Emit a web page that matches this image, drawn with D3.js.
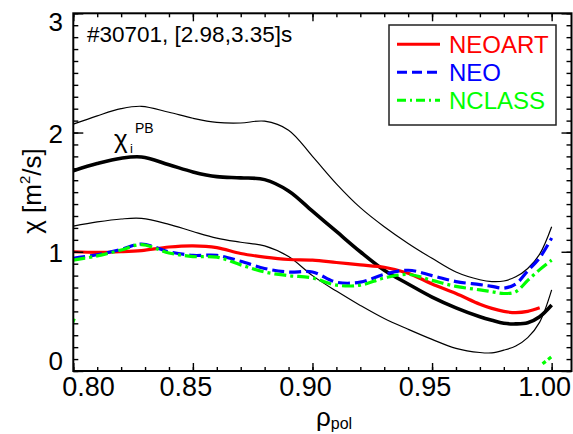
<!DOCTYPE html>
<html><head><meta charset="utf-8">
<script src="https://cdn.jsdelivr.net/npm/d3@7"></script>
<style>body{margin:0;background:#fff}svg{display:block}text{font-family:"Liberation Sans",Arial,sans-serif}</style>
</head><body><svg id="c" width="573" height="434"></svg>
<script>
const rho     = [0.800,0.810,0.820,0.8285,0.840,0.850,0.860,0.870,0.880,0.890,0.900,0.910,0.920,0.930,0.940,0.950,0.960,0.970,0.975,0.980,0.985,0.990,0.995,1.000];
const chiPB   = [1.68,1.74,1.785,1.795,1.73,1.67,1.63,1.62,1.605,1.51,1.34,1.17,1.00,0.845,0.73,0.62,0.53,0.455,0.425,0.40,0.395,0.405,0.455,0.553];
const chiPBUp = [2.07,2.14,2.20,2.22,2.17,2.12,2.085,2.08,2.095,2.02,1.80,1.57,1.37,1.21,1.07,0.945,0.83,0.765,0.75,0.755,0.79,0.86,0.98,1.21];
const chiPBLo = [1.215,1.25,1.275,1.28,1.23,1.17,1.115,1.08,1.05,0.96,0.80,0.67,0.55,0.44,0.35,0.265,0.19,0.155,0.152,0.175,0.21,0.28,0.41,0.68];
const neoart  = [1.00,0.995,1.00,1.01,1.04,1.05,1.035,0.985,0.955,0.935,0.93,0.91,0.89,0.87,0.82,0.73,0.65,0.56,0.525,0.50,0.49,0.50,0.53,null];
const neo     = [0.945,0.975,1.02,1.065,1.00,0.97,0.97,0.92,0.86,0.83,0.83,0.745,0.745,0.81,0.845,0.80,0.75,0.725,0.71,0.695,0.73,0.84,0.95,1.115];
const nclass  = [0.93,0.965,1.015,1.06,0.99,0.96,0.955,0.89,0.83,0.80,0.78,0.72,0.72,0.78,0.81,0.76,0.71,0.68,0.665,0.65,0.665,0.76,0.85,0.93];
const nclassEdgeRho = [0.7996,0.8004];
const nclassEdge    = [0.40,0.44];
const nclassTailRho = [0.9962,1.000];
const nclassTail    = [0.06,0.12];
const xTicks = [0.80,0.85,0.90,0.95,1.00];
const xTickLabels = ["0.80","0.85","0.90","0.95","1.00"];
const yTicks = [0,1,2,3];
const yTickLabels = ["0","1","2","3"];
const legendNames = ["NEOART","NEO","NCLASS"];
const legendColors = ["#ff0000","#0000ff","#00ff00"];
const legendDash = [null,"12,5","12,4,3,4"];
const title = "#30701, [2.98,3.35]s";

const svg = d3.select("#c");
const x = d3.scaleLinear().domain([0.8,1.0083]).range([73.3,571.5]);
const y = d3.scaleLinear().domain([0,3]).range([371,13.3]);
const X0=x.range()[0], X1=x.range()[1], Y0=y.range()[0], Y1=y.range()[1];

svg.append("defs").append("clipPath").attr("id","clip")
  .append("rect").attr("x",X0).attr("y",Y1).attr("width",X1-X0).attr("height",Y0-Y1);

const g = svg.append("g").attr("clip-path","url(#clip)");
const line = d3.line().defined(d=>d[1]!=null).x(d=>x(d[0])).y(d=>y(d[1])).curve(d3.curveCatmullRom.alpha(0.5));
function draw(rs, vs, color, w, dash){
  const p = g.append("path").datum(rs.map((r,i)=>[r,vs[i]]))
    .attr("d",line).attr("fill","none").attr("stroke",color).attr("stroke-width",w)
    .attr("stroke-linejoin","round");
  if(dash) p.attr("stroke-dasharray",dash);
}
draw(rho,chiPBUp,"#000",1.2);
draw(rho,chiPBLo,"#000",1.2);
draw(rho,chiPB,"#000",3.6);
draw(rho,neoart,legendColors[0],3.2,legendDash[0]);
draw(rho,neo,legendColors[1],3.2,legendDash[1]);
draw(rho,nclass,legendColors[2],3.2,legendDash[2]);
draw(nclassEdgeRho,nclassEdge,legendColors[2],3.2);
draw(nclassTailRho,nclassTail,legendColors[2],3.2,"4,3");

// axes ticks
const xMinor = d3.range(0,21).map(i=>+(0.8+i*0.01).toFixed(2));
const yMinor = d3.range(0,31).map(i=>+(i*0.1).toFixed(1));
function ax(gen, tr){ const a = svg.append("g").attr("transform",tr).call(gen);
  a.select(".domain").remove(); a.selectAll("line").attr("stroke","#000").attr("stroke-width",1.4); a.selectAll("text").remove(); }
ax(d3.axisBottom(x).tickValues(xMinor).tickSizeInner(-4).tickSizeOuter(0).tickFormat(""),`translate(0,${Y0})`);
ax(d3.axisBottom(x).tickValues(xTicks).tickSizeInner(-8).tickSizeOuter(0).tickFormat(""),`translate(0,${Y0})`);
ax(d3.axisTop(x).tickValues(xMinor).tickSizeInner(-4).tickSizeOuter(0).tickFormat(""),`translate(0,${Y1})`);
ax(d3.axisTop(x).tickValues(xTicks).tickSizeInner(-8).tickSizeOuter(0).tickFormat(""),`translate(0,${Y1})`);
ax(d3.axisLeft(y).tickValues(yMinor).tickSizeInner(-5).tickSizeOuter(0).tickFormat(""),`translate(${X0},0)`);
ax(d3.axisLeft(y).tickValues(yTicks).tickSizeInner(-10).tickSizeOuter(0).tickFormat(""),`translate(${X0},0)`);
ax(d3.axisRight(y).tickValues(yMinor).tickSizeInner(-5).tickSizeOuter(0).tickFormat(""),`translate(${X1},0)`);
ax(d3.axisRight(y).tickValues(yTicks).tickSizeInner(-10).tickSizeOuter(0).tickFormat(""),`translate(${X1},0)`);

svg.append("rect").attr("x",X0).attr("y",Y1).attr("width",X1-X0).attr("height",Y0-Y1)
  .attr("fill","none").attr("stroke","#000").attr("stroke-width",2);

// tick labels
xTicks.forEach((v,i)=>{
  const t = svg.append("text").attr("y",396).attr("font-size",27).text(xTickLabels[i]);
  if(i===0) t.attr("x",x(v)-11).attr("text-anchor","start");
  else t.attr("x",x(v)-7).attr("text-anchor","middle");
});
const yOff = {0:-1,1:10,2:10,3:18};
yTicks.forEach((v,i)=>{
  svg.append("text").attr("x",63).attr("y",y(v)+yOff[v]).attr("text-anchor","end").attr("font-size",26).text(yTickLabels[i]);
});

// axis titles
const yt = svg.append("text").attr("transform","translate(41,191) rotate(-90)").attr("text-anchor","middle").attr("font-size",26);
yt.append("tspan").text("χ [m");
yt.append("tspan").attr("font-size",15).attr("dy",-11).text("2");
yt.append("tspan").attr("dy",11).text("/s]");
const xt = svg.append("text").attr("x",316).attr("y",426).attr("font-size",26);
xt.append("tspan").text("ρ");
xt.append("tspan").attr("font-size",16).attr("dy",3).text("pol");

// title
svg.append("text").attr("x",87).attr("y",42).attr("font-size",22.5).text(title);

// chi_i^PB label
svg.append("text").attr("x",114).attr("y",148).attr("font-size",26).text("χ");
svg.append("text").attr("x",130).attr("y",153).attr("font-size",13).text("i");
svg.append("text").attr("x",135).attr("y",133).attr("font-size",14).text("PB");

// legend
const lg = svg.append("g");
lg.append("rect").attr("x",389).attr("y",25).attr("width",167).attr("height",100)
  .attr("fill","#fff").attr("stroke","#222").attr("stroke-width",1.5);
legendNames.forEach((n,i)=>{
  const ly = 44.3 + i*28;
  const l = lg.append("line").attr("x1",397).attr("x2",440).attr("y1",ly).attr("y2",ly)
    .attr("stroke",legendColors[i]).attr("stroke-width",3);
  if(legendDash[i]) l.attr("stroke-dasharray", i===1?"10,5":"9,4,2,4");
  lg.append("text").attr("x",449).attr("y",ly+9).attr("font-size",24).attr("fill",legendColors[i]).text(n);
});
</script></body></html>
